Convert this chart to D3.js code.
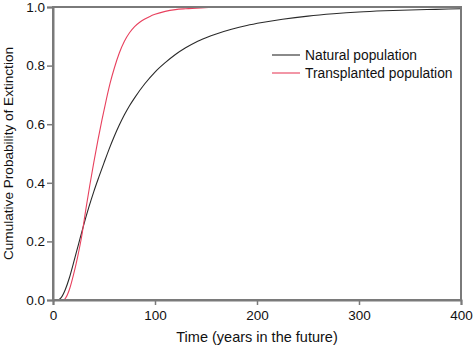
<!DOCTYPE html>
<html>
<head>
<meta charset="utf-8">
<script src="https://cdn.jsdelivr.net/npm/d3@7/dist/d3.min.js"></script>
<style>
  html, body { margin: 0; padding: 0; background: #fff; }
  svg { display: block; font-family: "Liberation Sans", Arial, sans-serif; }
</style>
</head>
<body>
<svg id="chart" width="474" height="347"></svg>
<script>
// Time in years and cumulative probability of extinction for each population
const naturalYears = [0, 5, 8, 12, 16, 20, 25, 30, 35, 40, 45, 50, 55, 60, 65, 70, 75, 80, 90, 100, 110, 120, 130, 140, 150, 160, 175, 190, 205, 225, 250, 275, 300, 325, 350, 375, 400];
const naturalProb  = [0, 0, 0.008, 0.035, 0.075, 0.125, 0.19, 0.255, 0.315, 0.37, 0.42, 0.468, 0.515, 0.558, 0.597, 0.632, 0.663, 0.69, 0.738, 0.778, 0.81, 0.838, 0.861, 0.88, 0.895, 0.908, 0.924, 0.937, 0.947, 0.958, 0.969, 0.977, 0.983, 0.987, 0.99, 0.992, 0.994];

const transplantedYears = [0, 10, 12, 16, 20, 24, 28, 32, 36, 40, 44, 48, 52, 56, 60, 65, 70, 75, 80, 85, 90, 95, 100, 110, 120, 130, 145, 160, 175];
const transplantedProb  = [0, 0, 0.005, 0.035, 0.085, 0.145, 0.215, 0.305, 0.39, 0.47, 0.545, 0.615, 0.68, 0.74, 0.79, 0.843, 0.883, 0.912, 0.933, 0.948, 0.959, 0.968, 0.975, 0.985, 0.991, 0.994, 0.997, 0.999, 1.0];

const xTicks = [0, 100, 200, 300, 400];
const yTicks = [0, 0.2, 0.4, 0.6, 0.8, 1.0];

const seriesNames = ["Natural population", "Transplanted population"];
const seriesColors = ["#2a2a2a", "#e8415e"];

const svg = d3.select("#chart");
const plotLeft = 53, plotRight = 461, plotTop = 7, plotBottom = 300;

const x = d3.scaleLinear().domain([0, 400]).range([plotLeft, plotRight]);
const y = d3.scaleLinear().domain([0, 1]).range([plotBottom, plotTop]);

const axisColor = "#7a7a7a";
const textColor = "#111";

// Curves
const series = [
  { name: seriesNames[0], color: seriesColors[0], pts: naturalYears.map((t, i) => [t, naturalProb[i]]) },
  { name: seriesNames[1], color: seriesColors[1], pts: transplantedYears.map((t, i) => [t, transplantedProb[i]]) }
];
const line = d3.line().x(d => x(d[0])).y(d => y(d[1])).curve(d3.curveMonotoneX);
svg.selectAll("path.series").data(series).enter().append("path")
  .attr("class", "series")
  .attr("d", d => line(d.pts))
  .attr("fill", "none")
  .attr("stroke", d => d.color)
  .attr("stroke-width", 1.1);

// Frame
svg.append("rect")
  .attr("x", plotLeft).attr("y", plotTop)
  .attr("width", plotRight - plotLeft).attr("height", plotBottom - plotTop)
  .attr("fill", "none").attr("stroke", axisColor).attr("stroke-width", 2);

// Axes
const xAxis = d3.axisBottom(x).tickValues(xTicks).tickFormat(d3.format("d")).tickSize(5).tickPadding(5);
const yAxis = d3.axisLeft(y).tickValues(yTicks).tickFormat(d3.format(".1f")).tickSize(6).tickPadding(2);

const gx = svg.append("g").attr("transform", `translate(0,${plotBottom})`).call(xAxis);
const gy = svg.append("g").attr("transform", `translate(${plotLeft},0)`).call(yAxis);
[gx, gy].forEach(g => {
  g.select(".domain").attr("stroke", axisColor).attr("stroke-width", 2);
  g.selectAll(".tick line").attr("stroke", axisColor).attr("stroke-width", 1.5);
  g.selectAll(".tick text").attr("fill", textColor).style("font-size", "13.5px")
    .style("font-family", "'Liberation Sans', Arial, sans-serif");
});

// Axis titles
svg.append("text")
  .attr("x", (plotLeft + plotRight) / 2).attr("y", 342)
  .attr("text-anchor", "middle")
  .attr("fill", textColor).style("font-size", "14.5px")
  .text("Time (years in the future)");

svg.append("text")
  .attr("transform", `translate(13,${(plotTop + plotBottom) / 2}) rotate(-90)`)
  .attr("text-anchor", "middle")
  .attr("fill", textColor).style("font-size", "13.6px")
  .text("Cumulative Probability of Extinction");

// Legend
const legend = svg.append("g");
series.forEach((s, i) => {
  const ly = 55 + i * 18;
  legend.append("line")
    .attr("x1", 272).attr("x2", 300).attr("y1", ly).attr("y2", ly)
    .attr("stroke", s.color).attr("stroke-width", 1.1);
  legend.append("text")
    .attr("x", 305).attr("y", ly).attr("dy", "0.35em")
    .attr("fill", textColor).style("font-size", "13.8px")
    .text(s.name);
});
</script>
</body>
</html>
